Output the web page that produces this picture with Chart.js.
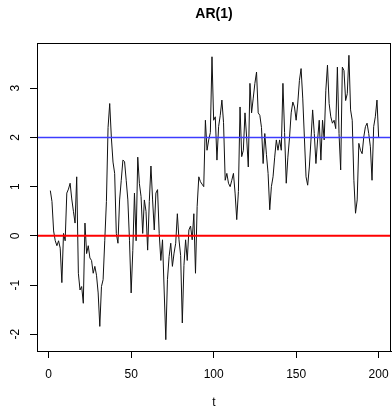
<!DOCTYPE html>
<html>
<head>
<meta charset="utf-8">
<title>AR(1)</title>
<script src="https://cdn.jsdelivr.net/npm/chart.js@4.4.1/dist/chart.umd.min.js"></script>
<style>
  body { margin: 0; background: #fff; }
  canvas { display: block; }
</style>
</head>
<body>
<canvas id="arChart" width="392" height="411"></canvas>
<script>
// série AR(1), valeurs (t = 1..200)
const series = [
  0.92, 0.7, 0.1, -0.1, -0.2, -0.1, -0.25, -0.95, 0.05, -0.1,
  0.87, 0.95, 1.07, 0.75, 0.5, 0.26, 1.2, -0.76, -1.1, -1.03,
  -1.37, 0.26, -0.36, -0.2, -0.45, -0.5, -0.76, -0.62, -0.8, -1.16,
  -1.84, -1.03, -0.89, -0.1, 0.7, 2.2, 2.69, 2.0, 1.5, 1.27,
  0.05, -0.15, 0.73, 1.13, 1.54, 1.51, 1.13, 0.73, -0.1, -1.16,
  -0.3, 0.87, -0.1, 1.6, 1.06, 0.8, 0.05, 0.73, 0.5, -0.29,
  0.7, 1.42, 0.73, 0.12, 0.87, 0.94, 0.05, -0.5, -0.08, -1.1,
  -2.11, -0.89, -0.42, -0.15, -0.62, -0.35, -0.15, 0.45, -0.08, -0.4,
  -1.77, -0.6, -0.08, -0.5, 0.12, 0.2, -0.08, 0.45, -0.76, 0.6,
  1.2, 1.1, 1.05, 1.0, 2.35, 1.74, 1.95, 2.1, 3.64, 2.35,
  2.42, 1.54, 2.22, 2.45, 2.76, 2.3, 1.13, 1.27, 1.07, 1.0,
  1.13, 1.27, 0.87, 0.33, 0.9, 2.62, 1.61, 1.74, 2.5, 2.0,
  1.4, 3.1, 2.5, 2.8, 3.1, 3.33, 2.5, 2.45, 2.2, 1.47,
  2.08, 1.65, 1.27, 0.53, 1.0, 1.2, 1.6, 1.95, 1.74, 1.95,
  1.74, 3.1, 2.1, 1.07, 1.6, 2.0, 2.5, 2.72, 2.62, 2.35,
  2.7, 3.16, 3.4, 2.8, 2.0, 1.2, 1.03, 1.4, 1.95, 2.56,
  2.08, 1.47, 1.95, 2.35, 1.54, 2.35, 1.95, 2.96, 3.47, 2.69,
  2.42, 2.29, 2.35, 2.18, 3.43, 2.08, 1.34, 3.43, 3.36, 2.75,
  2.89, 3.67, 2.56, 2.35, 1.13, 0.46, 0.73, 1.88, 1.74, 1.67,
  2.01, 2.22, 2.29, 2.08, 1.81, 1.13, 2.22, 2.42, 2.76, 2.01
];
const tValues = series.map((_, i) => i + 1);

const xTicks = [0, 50, 100, 150, 200];
const yTicks = [-2, -1, 0, 1, 2, 3];
const zeroLevel = 0;   // ligne rouge
const meanLevel = 2;   // ligne bleue

const xMin = -7.07, xMax = 207.5;
const yMin = -2.34, yMax = 3.92;

const FONT = "'Liberation Sans', Arial, sans-serif";

// cadre autour de la zone de tracé + étiquettes Y verticales (style R)
const rStylePlugin = {
    id: 'rStyle',
    afterDraw(chart) {
        const { ctx, chartArea, scales } = chart;
        ctx.save();
        ctx.strokeStyle = '#000';
        ctx.lineWidth = 1;
        ctx.strokeRect(chartArea.left + 0.5, chartArea.top + 0.5,
            chartArea.right - chartArea.left - 1, chartArea.bottom - chartArea.top);
        ctx.fillStyle = '#000';
        ctx.font = '12px ' + FONT;
        ctx.textAlign = 'center';
        ctx.textBaseline = 'middle';
        scales.y.ticks.forEach(tick => {
            const y = scales.y.getPixelForValue(tick.value);
            ctx.save();
            ctx.translate(16, y);
            ctx.rotate(-Math.PI / 2);
            ctx.fillText(String(tick.value), 0, 0);
            ctx.restore();
        });
        ctx.restore();
    }
};

const ctx = document.getElementById('arChart').getContext('2d');
new Chart(ctx, {
    type: 'line',
    data: {
        datasets: [
            {
                data: [{ x: xMin, y: zeroLevel }, { x: xMax, y: zeroLevel }],
                borderColor: '#ff0000',
                borderWidth: 2,
                pointRadius: 0
            },
            {
                data: [{ x: xMin, y: meanLevel }, { x: xMax, y: meanLevel }],
                borderColor: '#3c3cff',
                borderWidth: 1.4,
                pointRadius: 0
            },
            {
                data: tValues.map((t, i) => ({ x: t, y: series[i] })),
                borderColor: '#111',
                borderWidth: 1,
                pointRadius: 0,
                tension: 0
            }
        ]
    },
    options: {
        responsive: false,
        animation: false,
        layout: { padding: { right: 1, left: 0, top: 0, bottom: 0 } },
        plugins: {
            legend: { display: false },
            tooltip: { enabled: false },
            title: {
                display: true,
                text: 'AR(1)',
                fullSize: false,
                color: '#000',
                font: { family: FONT, size: 14, weight: 'bold' },
                padding: { top: 6, bottom: 20.2 }
            }
        },
        scales: {
            x: {
                type: 'linear',
                min: xMin,
                max: xMax,
                afterBuildTicks: scale => { scale.ticks = xTicks.map(v => ({ value: v })); },
                afterFit: scale => {
                    scale.height = 60;
                    scale.paddingLeft = 0;
                    scale.paddingRight = 0;
                },
                grid: { drawOnChartArea: false, drawTicks: true, tickLength: 7, color: '#000' },
                border: { display: true, color: '#000' },
                ticks: {
                    color: '#000',
                    font: { family: FONT, size: 12 },
                    padding: 9,
                    maxRotation: 0,
                    autoSkip: false
                },
                title: {
                    display: true,
                    text: 't',
                    color: '#000',
                    font: { family: FONT, size: 12 },
                    padding: { top: 0, bottom: 1 }
                }
            },
            y: {
                type: 'linear',
                min: yMin,
                max: yMax,
                afterBuildTicks: scale => { scale.ticks = yTicks.map(v => ({ value: v })); },
                afterFit: scale => {
                    scale.width = 37;
                    scale.paddingTop = 0;
                    scale.paddingBottom = 0;
                },
                grid: { drawOnChartArea: false, drawTicks: true, tickLength: 7, color: '#000' },
                border: { display: true, color: '#000' },
                ticks: { display: false }
            }
        }
    },
    plugins: [rStylePlugin]
});
</script>
</body>
</html>
